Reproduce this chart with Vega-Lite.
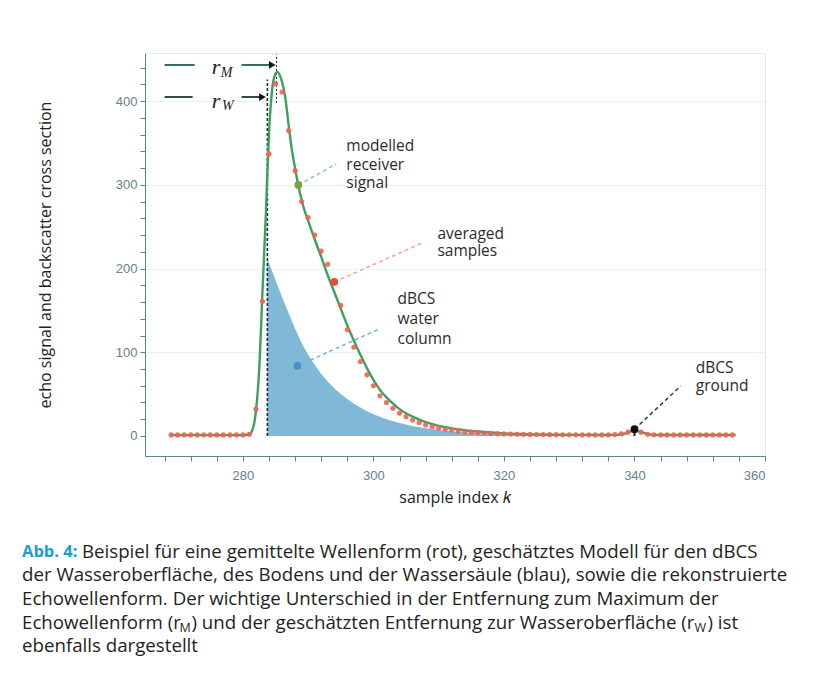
{
  "$schema": "https://vega.github.io/schema/vega-lite/v6.json",
  "background": "white",
  "padding": {"left": 22, "top": 52, "right": 8, "bottom": 8},
  "bounds": "flush",
  "spacing": 84,
  "config": {"view": {"stroke": null}, "font": "Open Sans"},
  "datasets": {
    "area": [
      {"k": 283.75, "v": 212}, {"k": 284, "v": 207}, {"k": 285, "v": 186}, {"k": 286, "v": 166},
      {"k": 287, "v": 147}, {"k": 288, "v": 128}, {"k": 289, "v": 111}, {"k": 290, "v": 97},
      {"k": 291, "v": 85}, {"k": 292, "v": 74}, {"k": 293, "v": 65}, {"k": 294, "v": 57},
      {"k": 295, "v": 50}, {"k": 296, "v": 44}, {"k": 297, "v": 38.5}, {"k": 298, "v": 34},
      {"k": 299, "v": 29.5}, {"k": 300, "v": 26}, {"k": 302, "v": 20}, {"k": 304, "v": 15.5},
      {"k": 306, "v": 12}, {"k": 308, "v": 9.2}, {"k": 310, "v": 7}, {"k": 312, "v": 5.4},
      {"k": 314, "v": 4.2}, {"k": 316, "v": 3.2}, {"k": 318, "v": 2.5}, {"k": 320, "v": 1.9},
      {"k": 324, "v": 1.2}, {"k": 328, "v": 0.8}, {"k": 332, "v": 0.5}, {"k": 336, "v": 0.3},
      {"k": 340, "v": 0.2}
    ],
    "model": [
      {"k": 269, "v": 1}, {"k": 275, "v": 1}, {"k": 280, "v": 1},
      {"k": 281, "v": 2}, {"k": 281.5, "v": 8}, {"k": 282, "v": 30}, {"k": 282.5, "v": 80},
      {"k": 283, "v": 172}, {"k": 283.5, "v": 262}, {"k": 284, "v": 362}, {"k": 284.5, "v": 415},
      {"k": 285, "v": 433}, {"k": 285.3, "v": 435}, {"k": 285.7, "v": 430}, {"k": 286, "v": 423},
      {"k": 286.5, "v": 404}, {"k": 287, "v": 372}, {"k": 287.5, "v": 342}, {"k": 288, "v": 320},
      {"k": 288.5, "v": 299}, {"k": 289, "v": 282}, {"k": 289.5, "v": 268}, {"k": 290, "v": 257},
      {"k": 290.5, "v": 246}, {"k": 291, "v": 235}, {"k": 292, "v": 214}, {"k": 293, "v": 192},
      {"k": 294, "v": 172}, {"k": 295, "v": 152}, {"k": 296, "v": 132}, {"k": 297, "v": 114},
      {"k": 298, "v": 97}, {"k": 299, "v": 81}, {"k": 300, "v": 67}, {"k": 301, "v": 55},
      {"k": 302, "v": 46}, {"k": 303, "v": 38.5}, {"k": 304, "v": 32}, {"k": 305, "v": 27},
      {"k": 306, "v": 23}, {"k": 307, "v": 19.5}, {"k": 308, "v": 16.5}, {"k": 309, "v": 14},
      {"k": 310, "v": 12}, {"k": 311, "v": 10.4}, {"k": 312, "v": 9}, {"k": 313, "v": 7.8},
      {"k": 314, "v": 6.8}, {"k": 315, "v": 5.9}, {"k": 316, "v": 5.2}, {"k": 318, "v": 4},
      {"k": 320, "v": 3}, {"k": 322, "v": 2.3}, {"k": 325, "v": 1.7}, {"k": 330, "v": 1.3},
      {"k": 335, "v": 1.1}, {"k": 337, "v": 1.3}, {"k": 338, "v": 2}, {"k": 339, "v": 4},
      {"k": 340, "v": 6.5}, {"k": 341, "v": 4.8}, {"k": 342, "v": 2.2}, {"k": 343, "v": 1.3},
      {"k": 345, "v": 1.1}, {"k": 355.5, "v": 1.1}
    ],
    "samples": [
      {"k": 269, "v": 1.2}, {"k": 270, "v": 1.2}, {"k": 271, "v": 1.2}, {"k": 272, "v": 1.2},
      {"k": 273, "v": 1.2}, {"k": 274, "v": 1.2}, {"k": 275, "v": 1.2}, {"k": 276, "v": 1.2},
      {"k": 277, "v": 1.2}, {"k": 278, "v": 1.2}, {"k": 279, "v": 1.2}, {"k": 280, "v": 1.2},
      {"k": 281, "v": 2}, {"k": 282, "v": 32}, {"k": 283, "v": 161}, {"k": 284, "v": 337},
      {"k": 285, "v": 421}, {"k": 286, "v": 411}, {"k": 287, "v": 365}, {"k": 288, "v": 317},
      {"k": 289, "v": 280}, {"k": 290, "v": 261}, {"k": 291, "v": 240}, {"k": 292, "v": 221},
      {"k": 293, "v": 205}, {"k": 294, "v": 184}, {"k": 295, "v": 156}, {"k": 296, "v": 127},
      {"k": 297, "v": 106}, {"k": 298, "v": 89}, {"k": 299, "v": 73}, {"k": 300, "v": 60},
      {"k": 301, "v": 48}, {"k": 302, "v": 40}, {"k": 303, "v": 33}, {"k": 304, "v": 27},
      {"k": 305, "v": 23}, {"k": 306, "v": 19}, {"k": 307, "v": 16}, {"k": 308, "v": 13},
      {"k": 309, "v": 11}, {"k": 310, "v": 9.5}, {"k": 311, "v": 8}, {"k": 312, "v": 7},
      {"k": 313, "v": 6}, {"k": 314, "v": 5}, {"k": 315, "v": 4.5}, {"k": 316, "v": 4},
      {"k": 317, "v": 3.5}, {"k": 318, "v": 3}, {"k": 319, "v": 2.7}, {"k": 320, "v": 2.4},
      {"k": 321, "v": 2.2}, {"k": 322, "v": 2}, {"k": 323, "v": 1.9}, {"k": 324, "v": 1.8},
      {"k": 325, "v": 1.7}, {"k": 326, "v": 1.6}, {"k": 327, "v": 1.5}, {"k": 328, "v": 1.5},
      {"k": 329, "v": 1.4}, {"k": 330, "v": 1.4}, {"k": 331, "v": 1.3}, {"k": 332, "v": 1.3},
      {"k": 333, "v": 1.3}, {"k": 334, "v": 1.2}, {"k": 335, "v": 1.2}, {"k": 336, "v": 1.3},
      {"k": 337, "v": 1.6}, {"k": 338, "v": 2.5}, {"k": 339, "v": 4.5}, {"k": 340, "v": 7},
      {"k": 341, "v": 4.5}, {"k": 342, "v": 2}, {"k": 343, "v": 1.4}, {"k": 344, "v": 1.2},
      {"k": 345, "v": 1.2}, {"k": 346, "v": 1.2}, {"k": 347, "v": 1.2}, {"k": 348, "v": 1.2},
      {"k": 349, "v": 1.2}, {"k": 350, "v": 1.2}, {"k": 351, "v": 1.2}, {"k": 352, "v": 1.2},
      {"k": 353, "v": 1.2}, {"k": 354, "v": 1.2}, {"k": 355, "v": 1.2}
    ],
    "vlines": [
      {"kind": "w", "k": 283.75, "v": 0, "v2": 426},
      {"kind": "m", "k": 285.15, "v": 398, "v2": 456},
      {"kind": "g", "k": 340, "v": 0, "v2": 8}
    ],
    "pointers": [
      {"kind": "model", "k": 288.5, "v": 300, "k2": 294.3, "v2": 325},
      {"kind": "samples", "k": 294, "v": 184, "k2": 307.5, "v2": 230.6},
      {"kind": "water", "k": 288.35, "v": 83.6, "k2": 300.9, "v2": 127.8},
      {"kind": "ground", "k": 340, "v": 8, "k2": 347.1, "v2": 59.7}
    ],
    "markers": [
      {"kind": "model", "k": 288.5, "v": 300},
      {"kind": "samples", "k": 294, "v": 184},
      {"kind": "water", "k": 288.35, "v": 83.6},
      {"kind": "ground", "k": 340, "v": 8}
    ],
    "labels": [
      {"k": 295.85, "v": 346.5, "text": "modelled"},
      {"k": 295.85, "v": 323.8, "text": "receiver"},
      {"k": 295.85, "v": 302.3, "text": "signal"},
      {"k": 309.8, "v": 241.8, "text": "averaged"},
      {"k": 309.8, "v": 220.5, "text": "samples"},
      {"k": 303.7, "v": 163.7, "text": "dBCS"},
      {"k": 303.7, "v": 139.8, "text": "water"},
      {"k": 303.7, "v": 115.9, "text": "column"},
      {"k": 349.4, "v": 81.2, "text": "dBCS"},
      {"k": 349.4, "v": 59.7, "text": "ground"}
    ],
    "keys": [
      {"kind": "m", "k": 268, "k2": 272.6, "v": 443.3},
      {"kind": "w", "k": 268, "k2": 272.3, "v": 405},
      {"kind": "m", "k": 279.8, "k2": 284.6, "v": 443.3},
      {"kind": "w", "k": 279.8, "k2": 283.1, "v": 405}
    ],
    "heads": [
      {"kind": "m", "k": 284.5, "v": 443.3},
      {"kind": "w", "k": 283.0, "v": 405}
    ],
    "rtext": [
      {"k": 275.9, "v": 441, "text": "r"},
      {"k": 275.9, "v": 400, "text": "r"}
    ],
    "rsub": [
      {"k": 277.5, "v": 434, "text": "M"},
      {"k": 277.7, "v": 394.5, "text": "W"}
    ],
    "caption": [
      {"line": 1, "seg": "head", "text": "Abb. 4:"},
      {"line": 1, "seg": "body1", "text": "Beispiel für eine gemittelte Wellenform (rot), geschätztes Modell für den dBCS"},
      {"line": 2, "seg": "main", "text": "der Wasseroberfläche, des Bodens und der Wassersäule (blau), sowie die rekonstruierte"},
      {"line": 3, "seg": "main", "text": "Echowellenform. Der wichtige Unterschied in der Entfernung zum Maximum der"},
      {"line": 4, "seg": "main", "text": "Echowellenform (r"},
      {"line": 4, "seg": "subM", "text": "M"},
      {"line": 4, "seg": "segB", "text": ") und der geschätzten Entfernung zur Wasseroberfläche (r"},
      {"line": 4, "seg": "subW", "text": "W"},
      {"line": 4, "seg": "segC", "text": ") ist"},
      {"line": 5, "seg": "main", "text": "ebenfalls dargestellt"}
    ]
  },
  "vconcat": [
    {
      "width": 620,
      "height": 403,
      "view": {"stroke": "#dcebec"},
      "encoding": {
        "x": {
          "field": "k", "type": "quantitative",
          "scale": {"domain": [265, 360], "nice": false, "zero": false},
          "axis": {
            "title": "sample index 𝑘",
            "values": [268, 272, 276, 280, 284, 288, 292, 296, 300, 304, 308, 312, 316, 320, 324, 328, 332, 336, 340, 344, 348, 352, 356, 360],
            "labelExpr": "datum.value % 20 === 0 ? datum.label : ''",
            "grid": false,
            "domainColor": "#5b8390", "tickColor": "#5b8390", "tickSize": 5,
            "labelColor": "#67808a", "labelFont": "Liberation Sans", "labelFontSize": 13, "labelPadding": 8,
            "titleFont": "Open Sans", "titleFontSize": 16, "titleFontWeight": "normal", "titleColor": "#222222", "titlePadding": 7
          }
        },
        "y": {
          "field": "v", "type": "quantitative",
          "scale": {"domain": [-24, 457.6], "nice": false, "zero": false},
          "axis": {
            "title": "echo signal and backscatter cross section",
            "values": [0, 20, 40, 60, 80, 100, 120, 140, 160, 180, 200, 220, 240, 260, 280, 300, 320, 340, 360, 380, 400, 420, 440],
            "labelExpr": "datum.value % 100 === 0 ? datum.label : ''",
            "grid": true, "gridColor": "#e6f1f1",
            "gridOpacity": {"condition": {"test": "datum.value % 100 === 0 && datum.value > 0", "value": 1}, "value": 0},
            "domainColor": "#5b8390", "tickColor": "#5b8390", "tickSize": 5,
            "labelColor": "#67808a", "labelFont": "Liberation Sans", "labelFontSize": 13, "labelPadding": 3,
            "titleFont": "Open Sans", "titleFontSize": 16, "titleFontWeight": "normal", "titleColor": "#222222", "titlePadding": 62
          }
        }
      },
      "layer": [
        {
          "data": {"name": "area"},
          "mark": {"type": "area", "color": "#80b8d7", "opacity": 1},
          "encoding": {"y2": {"datum": 0}}
        },
        {
          "data": {"name": "vlines"},
          "transform": [{"filter": "datum.kind === 'w'"}],
          "mark": {"type": "rule", "color": "#1c2a48", "strokeDash": [3, 2], "strokeWidth": 1.6},
          "encoding": {"y2": {"field": "v2"}}
        },
        {
          "data": {"name": "vlines"},
          "transform": [{"filter": "datum.kind === 'm'"}],
          "mark": {"type": "rule", "color": "#222222", "strokeDash": [2, 2], "strokeWidth": 1},
          "encoding": {"y2": {"field": "v2"}}
        },
        {
          "data": {"name": "model"},
          "mark": {"type": "line", "color": "#3f9f5f", "strokeWidth": 2.4, "interpolate": "monotone"},
          "encoding": {}
        },
        {
          "data": {"name": "samples"},
          "mark": {"type": "point", "filled": true, "size": 26, "color": "#f3604f", "opacity": 0.9},
          "encoding": {}
        },
        {
          "data": {"name": "pointers"},
          "mark": {"type": "rule", "strokeDash": [4, 3], "strokeWidth": 1.5},
          "encoding": {
            "x2": {"field": "k2"}, "y2": {"field": "v2"},
            "color": {"field": "kind", "type": "nominal", "legend": null,
              "scale": {"domain": ["model", "samples", "water", "ground"], "range": ["#8bcf8b", "#f6a59c", "#72b3e3", "#3a3a3a"]}}
          }
        },
        {
          "data": {"name": "vlines"},
          "transform": [{"filter": "datum.kind === 'g'"}],
          "mark": {"type": "rule", "color": "#111111", "strokeWidth": 2},
          "encoding": {"y2": {"field": "v2"}}
        },
        {
          "data": {"name": "markers"},
          "mark": {"type": "point", "filled": true, "size": 60, "opacity": 1},
          "encoding": {
            "color": {"field": "kind", "type": "nominal", "legend": null,
              "scale": {"domain": ["model", "samples", "water", "ground"], "range": ["#79a33b", "#f04838", "#4b8fd0", "#111111"]}}
          }
        },
        {
          "data": {"name": "labels"},
          "mark": {"type": "text", "align": "left", "baseline": "middle", "font": "Open Sans", "fontSize": 15.5, "color": "#2b2b2b"},
          "encoding": {"text": {"field": "text"}}
        },
        {
          "data": {"name": "keys"},
          "mark": {"type": "rule", "strokeWidth": 2},
          "encoding": {
            "x2": {"field": "k2"},
            "color": {"field": "kind", "type": "nominal", "legend": null,
              "scale": {"domain": ["m", "w"], "range": ["#2f6b66", "#37474b"]}}
          }
        },
        {
          "data": {"name": "heads"},
          "mark": {"type": "point", "shape": "triangle-right", "filled": true, "size": 60, "color": "#111111", "opacity": 1},
          "encoding": {}
        },
        {
          "data": {"name": "rtext"},
          "mark": {"type": "text", "align": "center", "baseline": "middle", "font": "Liberation Serif", "fontStyle": "italic", "fontSize": 22, "color": "#222222"},
          "encoding": {"text": {"field": "text"}}
        },
        {
          "data": {"name": "rsub"},
          "mark": {"type": "text", "align": "center", "baseline": "middle", "font": "Liberation Serif", "fontStyle": "italic", "fontSize": 14, "color": "#222222"},
          "encoding": {"text": {"field": "text"}}
        }
      ],
      "resolve": {"scale": {"color": "independent"}}
    },
    {
      "width": 620,
      "height": 118,
      "data": {"name": "caption"},
      "encoding": {
        "x": {"datum": 0, "type": "quantitative", "scale": {"domain": [0, 1]}, "axis": null},
        "y": {"field": "line", "type": "quantitative", "scale": {"domain": [0.5, 5.5], "reverse": true}, "axis": null},
        "text": {"field": "text"}
      },
      "layer": [
        {
          "transform": [{"filter": "datum.seg === 'head'"}],
          "mark": {"type": "text", "align": "left", "baseline": "middle", "dx": -123, "font": "Open Sans", "fontSize": 16.5, "fontWeight": "bold", "color": "#1b9ed1"}
        },
        {
          "transform": [{"filter": "datum.seg === 'body1'"}],
          "mark": {"type": "text", "align": "left", "baseline": "middle", "dx": -63, "font": "Open Sans", "fontSize": 18.7, "color": "#231f20"}
        },
        {
          "transform": [{"filter": "datum.seg === 'main'"}],
          "mark": {"type": "text", "align": "left", "baseline": "middle", "dx": -123, "font": "Open Sans", "fontSize": 18.7, "color": "#231f20"}
        },
        {
          "transform": [{"filter": "datum.seg === 'subM'"}],
          "mark": {"type": "text", "align": "left", "baseline": "middle", "dx": 34.5, "dy": 5, "font": "Open Sans", "fontSize": 12.5, "color": "#231f20"}
        },
        {
          "transform": [{"filter": "datum.seg === 'segB'"}],
          "mark": {"type": "text", "align": "left", "baseline": "middle", "dx": 46.5, "font": "Open Sans", "fontSize": 18.7, "color": "#231f20"}
        },
        {
          "transform": [{"filter": "datum.seg === 'subW'"}],
          "mark": {"type": "text", "align": "left", "baseline": "middle", "dx": 549.5, "dy": 5, "font": "Open Sans", "fontSize": 12.5, "color": "#231f20"}
        },
        {
          "transform": [{"filter": "datum.seg === 'segC'"}],
          "mark": {"type": "text", "align": "left", "baseline": "middle", "dx": 562.5, "font": "Open Sans", "fontSize": 18.7, "color": "#231f20"}
        }
      ]
    }
  ]
}
